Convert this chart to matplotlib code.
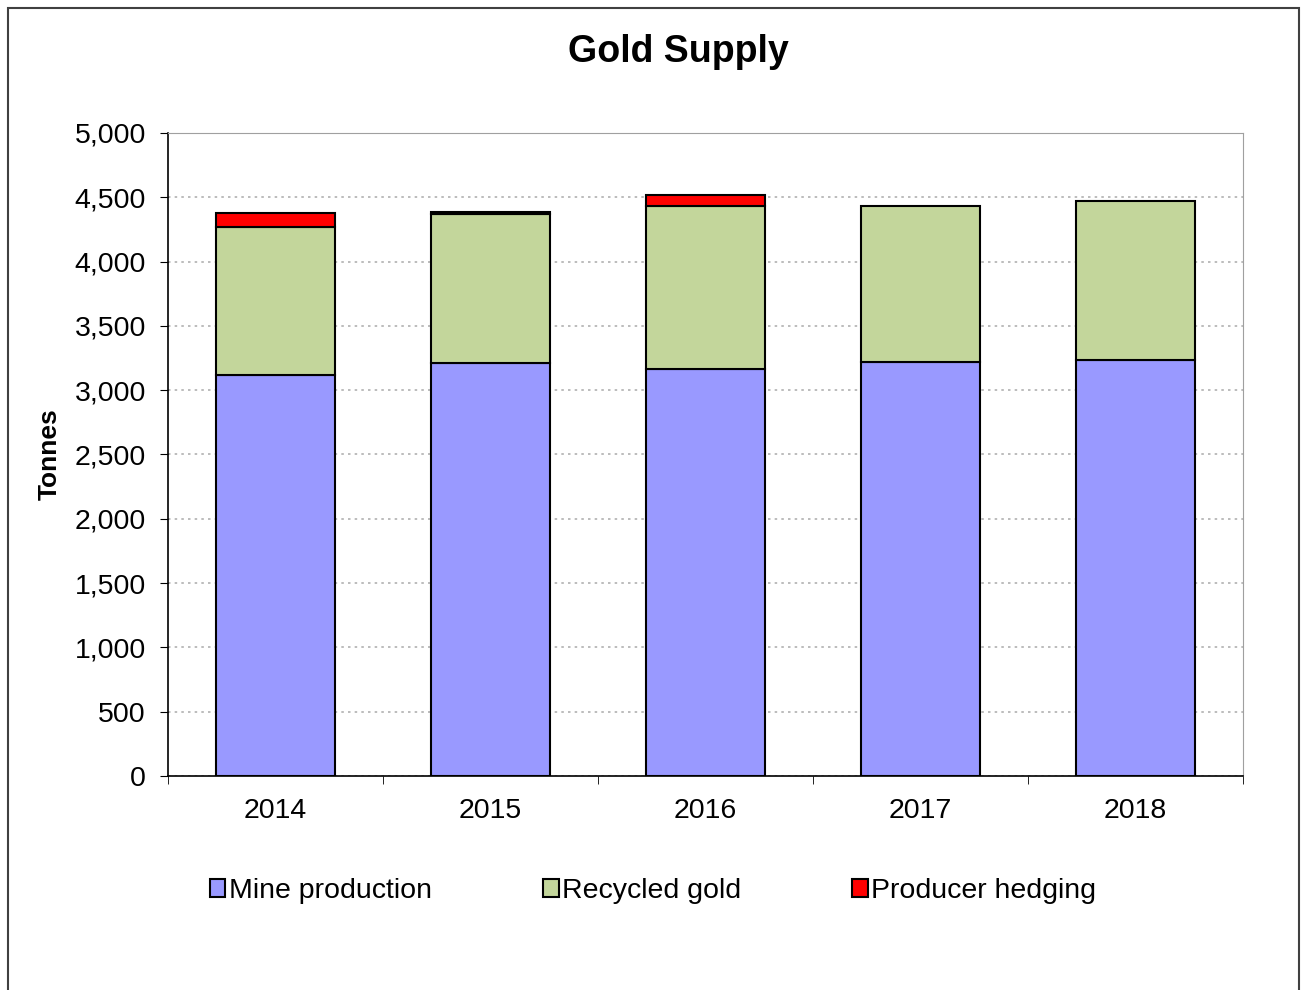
import numpy as np
import matplotlib.pyplot as plt
from matplotlib.patches import Rectangle
from matplotlib.ticker import FuncFormatter, MultipleLocator

plt.rcParams['font.family'] = ['Liberation Sans', 'DejaVu Sans']

years = ['2014', '2015', '2016', '2017', '2018']
mine = [3118, 3213, 3165, 3217, 3232]
recycled = [1151, 1161, 1268, 1215, 1239]
hedging = [108, 9, 87, 0, 0]

fig = plt.figure(figsize=(13.01, 9.9), dpi=100)
ax = fig.add_axes([168/1301, 1-776/990, (1243-168)/1301, (776-133)/990])

x = np.arange(len(years))
w = 0.555
ax.bar(x, mine, w, color='#9999ff', edgecolor='black', linewidth=1.5,
       label='Mine production', zorder=3)
ax.bar(x, recycled, w, bottom=mine, color='#c3d69b', edgecolor='black',
       linewidth=1.5, label='Recycled gold', zorder=3)
bottom2 = np.array(mine) + np.array(recycled)
hx = [i for i in x if hedging[i] > 0]
ax.bar(hx, [hedging[i] for i in hx], w, bottom=[bottom2[i] for i in hx],
       color='#ff0000', edgecolor='black', linewidth=1.5,
       label='Producer hedging', zorder=3)

ax.set_xlim(-0.5, len(years) - 0.5)
ax.set_ylim(0, 5000)
ax.yaxis.set_major_locator(MultipleLocator(500))
ax.yaxis.set_major_formatter(FuncFormatter(lambda v, p: f'{int(v):,}'))
ax.set_xticks(x)
ax.set_xticklabels(years)
ax.set_xticks(np.arange(len(years) + 1) - 0.5, minor=True)
ax.tick_params(axis='x', which='major', length=0, labelsize=20.5, pad=16)
ax.tick_params(axis='x', which='minor', length=6, direction='out')
ax.tick_params(axis='y', labelsize=20.5, length=6, direction='out', pad=10)
ax.grid(axis='y', color='#b0b0b0', linestyle=(0, (1.5, 2.5)), linewidth=1.2, zorder=0)

for s in ['top', 'right']:
    ax.spines[s].set_color('#a0a0a0')
ax.spines['left'].set_linewidth(1.2)
ax.spines['bottom'].set_linewidth(1.2)

ax.set_ylabel('Tonnes', fontsize=19, fontweight='bold', labelpad=9)
fig.text(678/1301, 1-52/990, 'Gold Supply', ha='center', va='center',
         fontsize=27, fontweight='bold')

fig.legend(loc='center', bbox_to_anchor=(653/1301, 1-891/990), ncol=3,
           frameon=False, fontsize=20.5, handlelength=0.55, handleheight=0.55,
           handletextpad=0.12, columnspacing=3.9)

fig.patches.append(Rectangle((8/1301, -0.02), 1291/1301, 1.02 - 8/990,
                             transform=fig.transFigure, fill=False,
                             edgecolor='#404040', linewidth=1.5))

fig.savefig('out.png', dpi=100)
